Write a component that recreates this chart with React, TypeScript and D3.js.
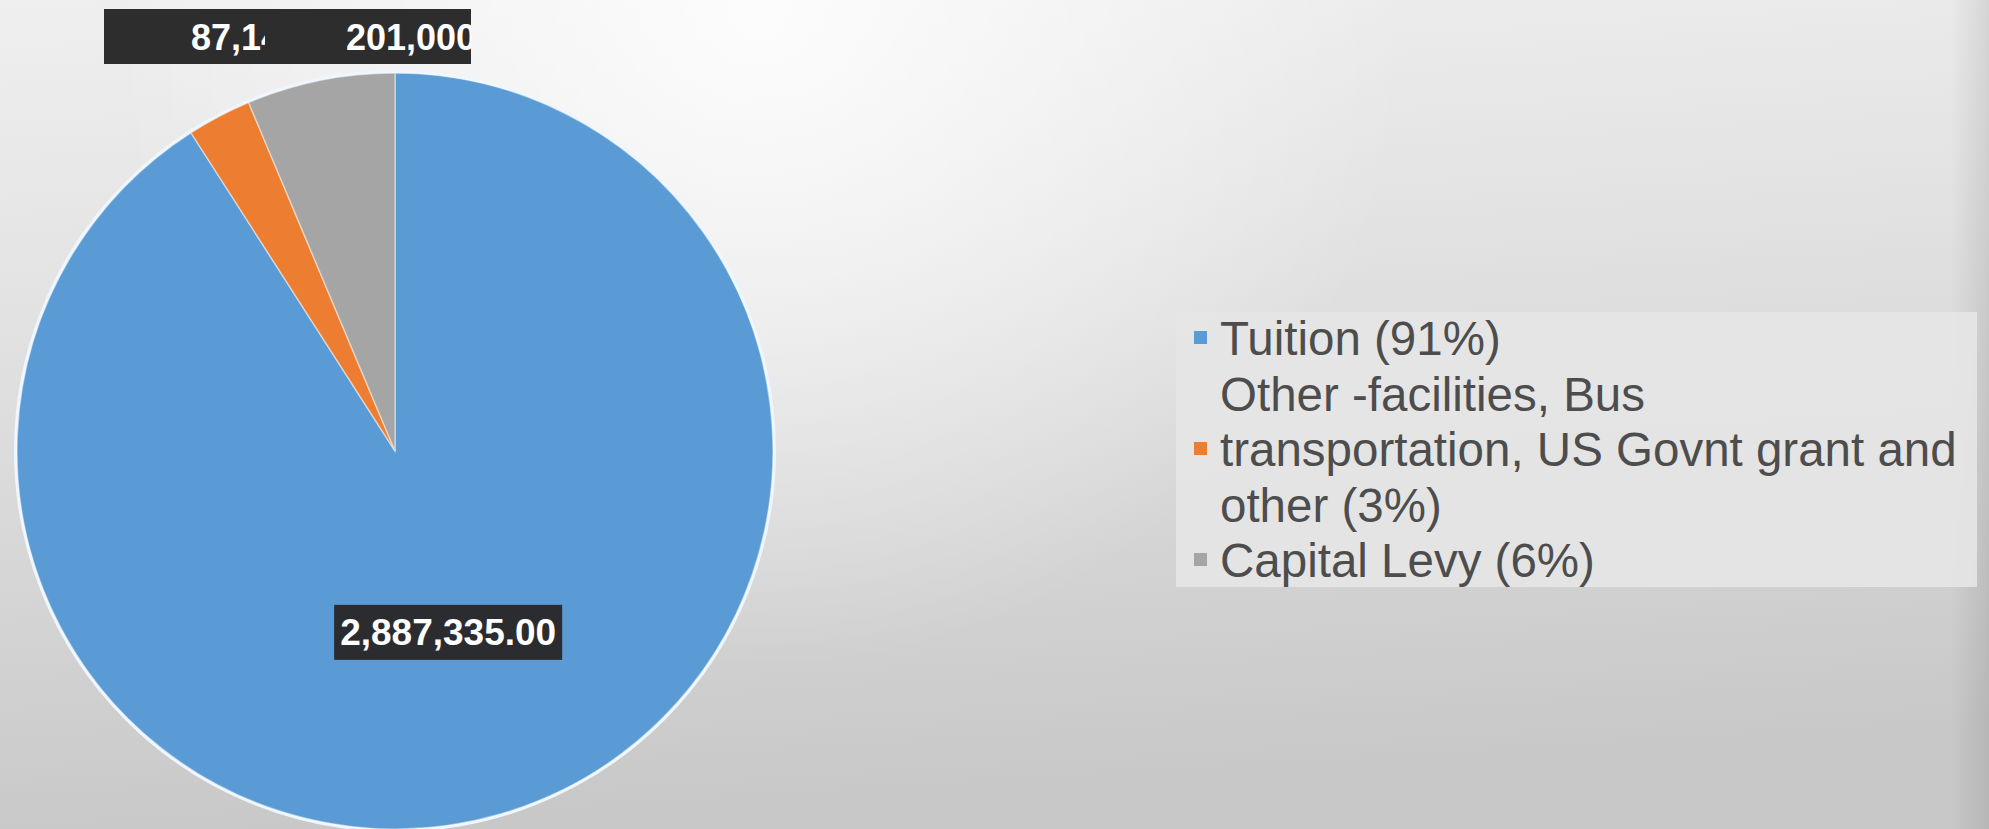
import React, { useEffect } from "react";
import * as d3 from "d3";

const categories = [
  "Tuition (91%)",
  "Other -facilities, Bus transportation, US Govnt grant and other (3%)",
  "Capital Levy (6%)",
];
const legendLines = [
  ["Tuition (91%)"],
  ["Other -facilities, Bus", "transportation, US Govnt grant and", "other (3%)"],
  ["Capital Levy (6%)"],
];
const values = [2887335, 87140, 201000];
const colors = ["#5b9bd5", "#ed7d31", "#a5a5a5"];

const W = 1989;
const H = 829;

export default function App() {
  useEffect(() => {
    document.body.style.margin = "0";
  }, []);

  const cx = 395;
  const cy = 451;
  const r = 378;
  const fmt = d3.format(",.2f");

  const pie = d3.pie<number>().sort(null).value((d) => d);
  const arcs = pie(values);
  const arcGen = d3.arc<d3.PieArcDatum<number>>().innerRadius(0).outerRadius(r);
  const labelArc = d3.arc<d3.PieArcDatum<number>>().innerRadius(r * 0.5).outerRadius(r * 0.5);

  const font = "'Liberation Sans', Arial, sans-serif";
  const mainC = labelArc.centroid(arcs[0]);

  // legend layout
  const lx = 1220;
  const firstBase = 355;
  const lineH = 55.5;
  let lineIdx = 0;
  const legendItems = legendLines.map((lines, i) => {
    const start = lineIdx;
    lineIdx += lines.length;
    const markerLine = start + Math.floor(lines.length / 2);
    return { lines, start, markerLine, color: colors[i], key: categories[i] };
  });

  const mainLabel = fmt(values[0]);
  const mainW = 228;
  const mainH = 55;

  return (
    <svg width={W} height={H} style={{ display: "block" }} xmlns="http://www.w3.org/2000/svg">
      <defs>
        <linearGradient id="bgv" x1="0" y1="0" x2="0.15" y2="1">
          <stop offset="0" stopColor="#efefef" />
          <stop offset="0.35" stopColor="#e3e3e3" />
          <stop offset="0.7" stopColor="#d5d5d5" />
          <stop offset="1" stopColor="#c8c8c8" />
        </linearGradient>
        <radialGradient id="hl" gradientUnits="userSpaceOnUse" cx="760" cy="20" r="650">
          <stop offset="0" stopColor="#ffffff" stopOpacity="0.85" />
          <stop offset="1" stopColor="#ffffff" stopOpacity="0" />
        </radialGradient>
        <linearGradient id="edge" x1="0" y1="0" x2="1" y2="0">
          <stop offset="0" stopColor="#000" stopOpacity="0" />
          <stop offset="1" stopColor="#000" stopOpacity="0.09" />
        </linearGradient>
        <clipPath id="clipA">
          <rect x={104} y={9} width={161} height={55} />
        </clipPath>
        <clipPath id="clipB">
          <rect x={265} y={9} width={206} height={55} />
        </clipPath>
      </defs>

      <rect x={0} y={0} width={W} height={H} fill="url(#bgv)" />
      <rect x={0} y={0} width={W} height={H} fill="url(#hl)" />
      <rect x={1950} y={0} width={39} height={H} fill="url(#edge)" />

      {/* legend band */}
      <rect x={1176} y={312} width={801} height={275} fill="#e5e5e5" opacity={0.9} />

      {/* pie */}
      <g transform={`translate(${cx},${cy})`}>
        <circle r={r + 1.5} fill="none" stroke="#eef6ff" strokeWidth={3} />
        {arcs.map((a, i) => (
          <path key={i} d={arcGen(a) || ""} fill={colors[i]} stroke="#ffffff" strokeOpacity={0.45} strokeWidth={1.5} />
        ))}
        <rect
          x={mainC[0] - mainW / 2}
          y={mainC[1] - mainH / 2}
          width={mainW}
          height={mainH}
          fill="#2a2c30"
        />
        <text
          x={mainC[0]}
          y={mainC[1]}
          textAnchor="middle"
          dominantBaseline="central"
          fill="#ffffff"
          fontFamily={font}
          fontWeight="bold"
          fontSize={37}
        >
          {mainLabel}
        </text>
      </g>

      {/* overlapping outside labels for the small slices */}
      <g>
        <rect x={104} y={9} width={161} height={55} fill="#2d2d2d" />
        <text
          x={191}
          y={37}
          dominantBaseline="central"
          fill="#ffffff"
          fontFamily={font}
          fontWeight="bold"
          fontSize={36}
          clipPath="url(#clipA)"
        >
          {fmt(values[1])}
        </text>
        <rect x={265} y={9} width={206} height={55} fill="#2d2d2d" />
        <text
          x={346}
          y={37}
          dominantBaseline="central"
          fill="#ffffff"
          fontFamily={font}
          fontWeight="bold"
          fontSize={36}
          clipPath="url(#clipB)"
        >
          {fmt(values[2])}
        </text>
      </g>

      {/* legend */}
      <g fontFamily={font} fontSize={47.5} fill="#4d4d4d">
        {legendItems.map((it) => (
          <g key={it.key}>
            <rect x={1194} y={firstBase + it.markerLine * lineH - 24} width={13} height={13} fill={it.color} />
            {it.lines.map((ln, j) => (
              <text key={j} x={lx} y={firstBase + (it.start + j) * lineH}>
                {ln}
              </text>
            ))}
          </g>
        ))}
      </g>
    </svg>
  );
}
